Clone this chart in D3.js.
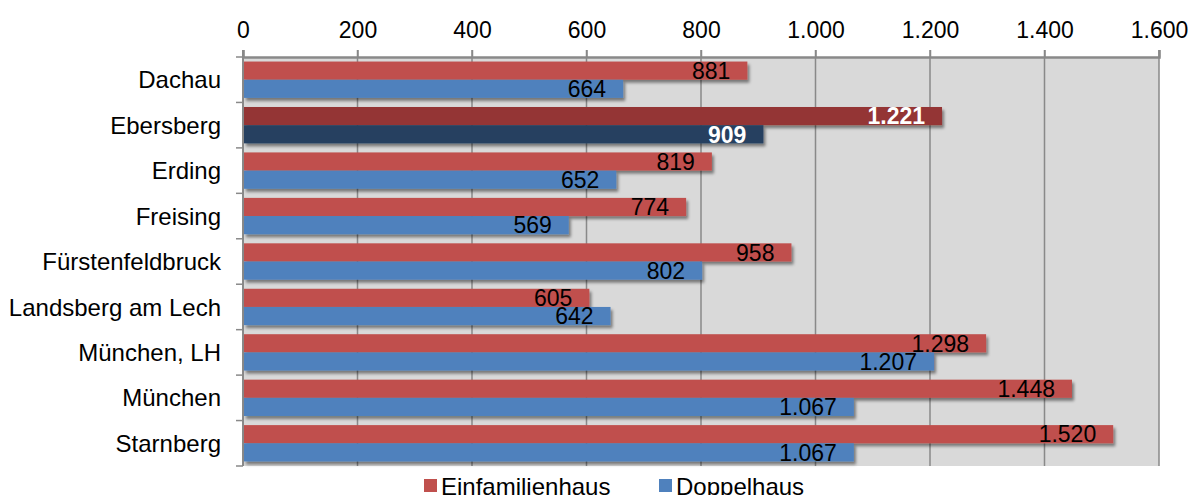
<!DOCTYPE html>
<html lang="de">
<head>
<meta charset="utf-8">
<title>Einfamilienhaus / Doppelhaus</title>
<script src="https://cdn.jsdelivr.net/npm/d3@7"></script>
<style>
  body { margin: 0; background: #fff; }
  svg text { font-family: "Liberation Sans", Arial, sans-serif; }
  .grid line { stroke: #898989; stroke-width: 1.5; }
</style>
</head>
<body>
<script>
var categories = ["Dachau", "Ebersberg", "Erding", "Freising", "Fürstenfeldbruck",
                  "Landsberg am Lech", "München, LH", "München", "Starnberg"];
var einfamilienhaus = [881, 1221, 819, 774, 958, 605, 1298, 1448, 1520];
var doppelhaus = [664, 909, 652, 569, 802, 642, 1207, 1067, 1067];
var seriesNames = ["Einfamilienhaus", "Doppelhaus"];
var xTicks = [0, 200, 400, 600, 800, 1000, 1200, 1400, 1600];
var highlight = "Ebersberg";

var w = 1192, h = 495;
// plot area edges (note: "top" is taken by window.top)
var pLeft = 243, pRight = 1159, pTop = 57, pBottom = 466;

var colors = ["#C0504D", "#4F81BD"];
var hiColors = ["#943634", "#254061"];

var de = d3.formatLocale({decimal: ",", thousands: ".", grouping: [3], currency: ["", "€"]});
var fmt = de.format(",d");

var svg = d3.select("body").append("svg")
    .attr("width", w).attr("height", h);

var defs = svg.append("defs");
var f = defs.append("filter").attr("id", "shadow")
    .attr("x", "-5%").attr("y", "-20%").attr("width", "110%").attr("height", "160%");
f.append("feDropShadow")
    .attr("dx", 2).attr("dy", 3).attr("stdDeviation", 1.5)
    .attr("flood-color", "#000").attr("flood-opacity", 0.45);

var xScale = d3.scaleLinear().domain([0, 1600]).range([pLeft, pRight]);
var yScale = d3.scaleBand().domain(categories).range([pTop, pBottom]).paddingInner(0.2).paddingOuter(0.1);
var ySub = d3.scaleBand().domain(seriesNames).range([0, yScale.bandwidth()]);

// plot background
svg.append("rect")
    .attr("x", pLeft).attr("y", pTop)
    .attr("width", pRight - pLeft).attr("height", pBottom - pTop)
    .attr("fill", "#D9D9D9");

// gridlines
svg.append("g").attr("class", "grid")
  .selectAll("line").data(xTicks.slice(1)).enter().append("line")
    .attr("x1", function(d) { return xScale(d); })
    .attr("x2", function(d) { return xScale(d); })
    .attr("y1", pTop - 7).attr("y2", pBottom);

// top axis
var xAxis = d3.axisTop(xScale).tickValues(xTicks).tickFormat(fmt).tickSize(7).tickPadding(12);
var gx = svg.append("g")
    .attr("transform", "translate(0," + pTop + ")")
    .call(xAxis);
gx.select(".domain").attr("stroke", "#898989").attr("stroke-width", 2.5);
gx.selectAll(".tick line").attr("stroke", "#898989").attr("stroke-width", 1.5);
gx.selectAll(".tick text").attr("font-size", "23px").attr("fill", "#000");

// left axis with category separators
var sep = d3.range(categories.length + 1).map(function(i) {
  return pTop + i * (pBottom - pTop) / categories.length;
});
svg.append("line")
    .attr("x1", pLeft).attr("x2", pLeft).attr("y1", pTop - 7).attr("y2", pBottom)
    .attr("stroke", "#898989").attr("stroke-width", 2);
svg.append("g").selectAll("line").data(sep).enter().append("line")
    .attr("x1", pLeft - 7).attr("x2", pLeft)
    .attr("y1", function(d) { return d; }).attr("y2", function(d) { return d; })
    .attr("stroke", "#898989").attr("stroke-width", 1.5);

svg.append("g").selectAll("text").data(categories).enter().append("text")
    .attr("x", 221)
    .attr("y", function(d) { return yScale(d) + yScale.bandwidth() / 2; })
    .attr("dy", "0.36em")
    .attr("text-anchor", "end")
    .attr("font-size", "24px")
    .text(function(d) { return d; });

// bars
var rows = [];
categories.forEach(function(c, i) {
  rows.push({cat: c, s: 0, v: einfamilienhaus[i]});
  rows.push({cat: c, s: 1, v: doppelhaus[i]});
});

svg.append("g").selectAll("rect").data(rows).enter().append("rect")
    .attr("x", pLeft + 1)
    .attr("y", function(d) { return yScale(d.cat) + ySub(seriesNames[d.s]); })
    .attr("width", function(d) { return xScale(d.v) - pLeft - 1; })
    .attr("height", ySub.bandwidth())
    .attr("fill", function(d) { return d.cat == highlight ? hiColors[d.s] : colors[d.s]; })
    .attr("filter", "url(#shadow)");

svg.append("g").selectAll("text").data(rows).enter().append("text")
    .attr("x", function(d) { return xScale(d.v) - 17; })
    .attr("y", function(d) { return yScale(d.cat) + ySub(seriesNames[d.s]) + ySub.bandwidth() / 2; })
    .attr("dy", "0.36em")
    .attr("text-anchor", "end")
    .attr("font-size", "23px")
    .attr("font-weight", function(d) { return d.cat == highlight ? "bold" : "normal"; })
    .attr("fill", function(d) { return d.cat == highlight ? "#fff" : "#000"; })
    .text(function(d) { return fmt(d.v); });

// legend (cut by the bottom edge, as in the original)
var legX = [424, 659];
var leg = svg.append("g").selectAll("g").data(seriesNames).enter().append("g")
    .attr("transform", function(d, i) { return "translate(" + legX[i] + ",479)"; });
leg.append("rect").attr("width", 13).attr("height", 13)
    .attr("fill", function(d, i) { return colors[i]; });
leg.append("text").attr("x", 17).attr("y", 7).attr("dy", "0.36em")
    .attr("font-size", "24px")
    .text(function(d) { return d; });
</script>
</body>
</html>
